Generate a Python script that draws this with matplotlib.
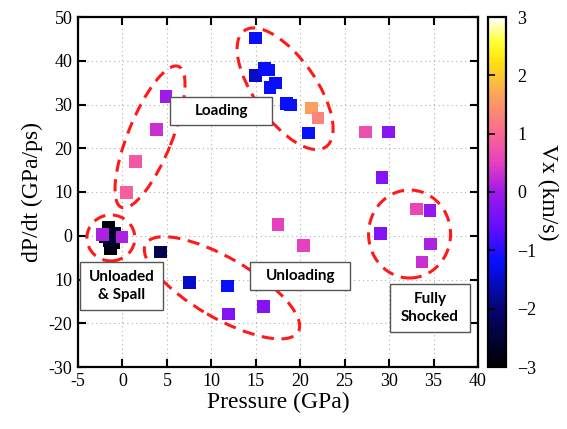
import numpy as np
import matplotlib
matplotlib.use("Agg")
import matplotlib.pyplot as plt
import matplotlib.transforms as mtransforms
from matplotlib.patches import Ellipse, Rectangle
from matplotlib.colors import LinearSegmentedColormap

# ---------------- data ----------------
pressure = [15.0, 15.0, 16.0, 16.4, 17.2, 16.6, 18.5, 18.9, 21.3, 22.0, 20.9,
            27.3, 29.9, 29.2,
            4.9, 3.8, 1.5, 0.5,
            -1.6, -1.9, -1.0, -1.3, -0.9, -1.5, -2.2, -0.05,
            4.3, 7.5, 11.8, 11.9, 15.9,
            17.5, 20.4,
            33.1, 34.6, 29.0, 34.7, 33.7]
dpdt = [45.2, 36.7, 38.3, 37.9, 34.9, 33.8, 30.3, 29.9, 29.2, 26.9, 23.5,
        23.7, 23.7, 13.4,
        31.9, 24.2, 16.9, 9.8,
        1.8, -0.3, -1.5, -3.0, 0.6, -1.0, 0.2, -0.3,
        -3.7, -10.6, -11.5, -17.9, -16.1,
        2.5, -2.3,
        6.1, 5.7, 0.6, -1.9, -6.0]
vx = [-1.2, -1.5, -1.2, -1.2, -1.2, -1.2, -1.2, -1.2, 1.6, 1.3, -1.2,
      0.7, -0.2, -0.3,
      0.0, 0.3, 0.8, 0.9,
      -2.9, -2.9, -2.9, -2.9, -2.7, -2.6, 0.1, 0.1,
      -2.3, -1.5, -1.2, -0.3, -0.3,
      0.5, 0.5,
      0.6, -0.1, -0.3, 0.1, 0.3]

x_ticks = [-5, 0, 5, 10, 15, 20, 25, 30, 35, 40]
y_ticks = [-30, -20, -10, 0, 10, 20, 30, 40, 50]
y_tick_labels = ['-30', '-20', '10', '0', '10', '20', '30', '40', '50']
cb_ticks = [-3, -2, -1, 0, 1, 2, 3]

# region labels: (text, center x, center y, box width, box height) in data units
regions = [("Loading", 11.1, 28.5, 11.4, 6.4),
           ("Unloaded\n& Spall", -0.1, -11.5, 9.3, 11.0),
           ("Unloading", 20.0, -9.2, 11.3, 6.4),
           ("Fully\nShocked", 34.6, -16.5, 9.0, 11.0)]

# dashed ellipses: center (data), width/height in pixels, angle in degrees
ellipses = [(3.1, 22.6, 152, 44, 68),
            (18.3, 33.6, 142, 62, -55),
            (-1.3, -0.5, 48, 46, 0),
            (11.2, -11.9, 176, 60, -30),
            (32.3, 0.4, 82, 88, 0)]

# ---------------- style ----------------
cmap = LinearSegmentedColormap.from_list("vx", [
    (0.0, (0, 0, 0)),
    (1/6, (0.02, 0.02, 0.45)),
    (0.30, (0.03, 0.06, 1.0)),
    (0.40, (0.4, 0.05, 1.0)),
    (0.50, (0.62, 0.1, 0.92)),
    (0.583, (0.9, 0.25, 0.75)),
    (0.667, (0.98, 0.4, 0.58)),
    (0.78, (0.98, 0.65, 0.35)),
    (0.88, (1.0, 0.9, 0.05)),
    (0.93, (1.0, 1.0, 0.2)),
    (1.0, (1, 1, 1)),
])

serif = "Liberation Serif"
fig = plt.figure(figsize=(5.67, 4.29), dpi=100)
ax = fig.add_axes([78/567, 62/429, 400/567, 350/429])
cax = fig.add_axes([488/567, 62/429, 18/567, 350/429])

ax.set_xlim(-5, 40)
ax.set_ylim(-30, 50)
ax.set_xticks(x_ticks)
ax.set_yticks(y_ticks)
ax.set_xticklabels([str(t) for t in x_ticks], fontfamily=serif, fontsize=13)
ax.set_yticklabels(y_tick_labels, fontfamily=serif, fontsize=13)
ax.grid(True, linestyle=(0, (1, 3)), color="#b0b0b0", linewidth=0.8)
ax.set_axisbelow(True)
ax.tick_params(direction="in", length=6, width=1.5, top=True, right=True,
               pad=4)
for s in ax.spines.values():
    s.set_linewidth(1.6)
ax.set_xlabel("Pressure (GPa)", fontfamily=serif, fontsize=17, labelpad=2)
ax.set_ylabel("dP/dt (GPa/ps)", fontfamily=serif, fontsize=17, labelpad=4)

sc = ax.scatter(pressure, dpdt, c=vx, cmap=cmap, vmin=-3, vmax=3, marker="s",
                s=85, linewidths=0, zorder=3)

for (cx, cy, w, h, ang) in ellipses:
    t = fig.dpi_scale_trans + mtransforms.ScaledTranslation(cx, cy, ax.transData)
    e = Ellipse((0, 0), w/100, h/100, angle=ang, transform=t, fill=False,
                edgecolor="#ff1a1a", linewidth=2.2, linestyle=(0, (4, 2.5)),
                zorder=4)
    ax.add_patch(e)

for (txt, cx, cy, w, h) in regions:
    ax.add_patch(Rectangle((cx - w/2, cy - h/2), w, h, facecolor="white",
                           edgecolor="#555555", linewidth=1.0, zorder=5))
    ax.text(cx, cy, txt, ha="center", va="center", fontsize=11,
            fontweight="bold", fontfamily="Lato", zorder=6,
            linespacing=1.4)

cb = fig.colorbar(sc, cax=cax, ticks=cb_ticks)
cb.outline.set_linewidth(1.6)
cax.tick_params(direction="in", length=5, width=1.2, left=True, right=False,
                labelsize=13, pad=8)
for lab in cax.get_yticklabels():
    lab.set_fontfamily(serif)
cb.set_label("Vx (km/s)", fontfamily=serif, fontsize=17, rotation=270,
             labelpad=16)

fig.savefig("out.png", dpi=100)
